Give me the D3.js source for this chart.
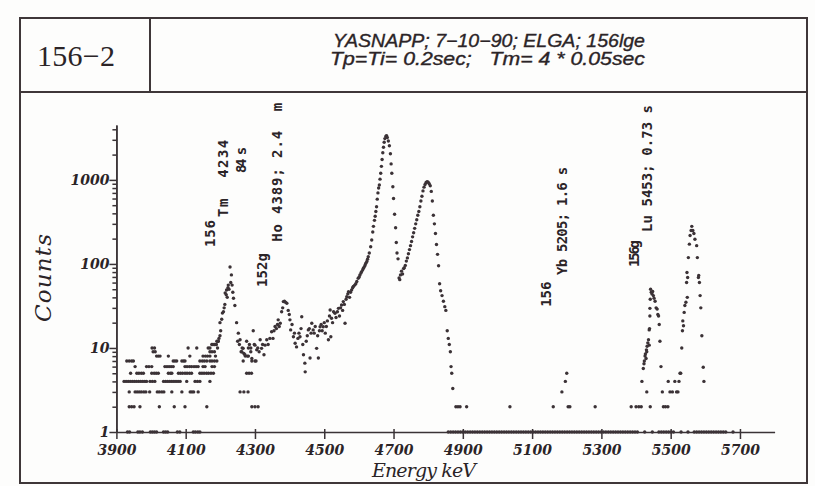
<!DOCTYPE html>
<meta charset="utf-8">
<style>
  body { margin: 0; background: #fdfdfc; }
  svg text { fill: #2b2427; }
  .tick text { font-family: "DejaVu Serif", serif; font-style: italic; font-weight: bold; font-size: 14px; }
  .axis path, .axis line { stroke: #3a3336; stroke-width: 1.5px; }
  .ann { font-family: "DejaVu Sans Mono", monospace; font-weight: bold; font-size: 14px; white-space: pre; }
</style>
<title>156-2 alpha spectrum</title>
<body>
<script src="https://d3js.org/d3.v7.min.js"></script>
<script>
// ---- data (energy keV, counts) ----
var xTicks = [3900, 4100, 4300, 4500, 4700, 4900, 5100, 5300, 5500, 5700];
var yMajor = [1, 10, 100, 1000];
var yMinor = [2,3,4,5,6,7,8,9, 20,30,40,50,60,70,80,90, 200,300,400,500,600,700,800,900, 2000,3000,4000];

// low-energy background: integer count rows, energies of the dots in each row
var rowCounts = [2, 3, 4, 5, 6, 7, 8, 9, 10, 11, 12];
var rowEnergies = [
  [3937,3944,3951,3968,4024,4067,4098,4161,4291,4300,4309],
  [3937,3954,3960,3966,3972,3979,3985,3996,4018,4024,4031,4037,4060,4089,4113,4118,4123,4136,4257,4268,4280],
  [3922,3928,3934,3940,3946,3952,3958,3964,3970,3976,3982,3987,3997,4004,4011,4036,4042,4048,4054,4060,4066,4072,4078,4084,4103,4127,4134,4141,4170],
  [3941,3959,3965,3972,3978,4002,4009,4015,4021,4050,4056,4060,4079,4085,4091,4098,4104,4111,4117,4141,4147,4153,4160,4166,4173,4180,4276,4283,4290],
  [3954,3987,3994,4002,4040,4046,4052,4058,4064,4098,4104,4111,4117,4124,4130,4136,4150,4156,4176,4183],
  [3930,3937,3944,3949,4064,4069,4074,4089,4094,4098,4141,4148,4154,4161,4170,4176,4183,4190,4266,4291,4300],
  [4016,4021,4026,4050,4112,4150,4157,4163,4170,4186,4272,4281],
  [4006,4012,4170,4176,4183,4262,4288],
  [4003,4010,4107,4132,4165,4170,4192],
  [4176,4182,4188],
  [4194]
];

// channels with a single count (they sit on the energy axis)
var oneCount = [3932,3938,3962,3968,3975,3998,4004,4010,4016,4036,4042,4048,4076,4083,4122,4128,4135,4141,
  4858,4865,4872,4879,4886,4893,4900,4907,4914,4921,4928,4935,4942,4949,4956,4963,4970,4977,4984,4991,4998,
  5005,5012,5019,5026,5033,5040,5047,5054,5061,5068,5075,5082,5089,5096,5103,5110,5117,5124,5131,5138,5145,
  5152,5159,5166,5173,5180,5187,5194,5201,5208,5215,5222,5229,5236,5243,5250,5257,5264,5271,5278,5285,5292,
  5299,5306,5313,5320,5327,5334,5341,5348,5355,5362,5369,5376,5383,5390,5397,5404,5425,5447,
  5466,5473,5480,5487,5494,5501,5508,5530,5550,
  5568,5575,5582,5589,5596,5603,5610,5617,5624,5631,5638,5645,5652,5659,5680];

var tmPeak = [[4176,11],[4182,11],[4188,11],[4190,12],[4194,12],[4196,13],[4199,14],[4201,16],[4199,20],[4204,22],
  [4206,26],[4209,27],[4211,30],[4213,33],[4214,45],[4217,43],[4218,49],[4220,40],[4222,52],[4223,56],[4225,50],
  [4228,92],[4230,60],[4232,74],[4234,56],[4236,46],[4238,39],[4242,32],[4247,20]];

var hoRegion = [[4250,12],[4252,15],[4255,11],[4257,12.5],[4260,9],[4263,10],[4266,9.9],[4268,8.6],[4271,8.3],
  [4276,12],[4278,8],[4281,10],[4284,11],[4288,10],[4291,7.5],[4295,16],[4298,11],[4300,10.8],[4303,7],[4305,9.5],
  [4308,10],[4312,9],[4315,12.5],[4319,9.9],[4322,11],[4326,8.3],[4329,10.8],[4334,12.5],[4338,11],[4343,13],
  [4348,15.6],[4352,13],[4355,16],[4358,18],[4362,17],[4365,19],[4367,21.6],[4370,18],[4373,19.7],[4377,27],
  [4380,30],[4382,35.6],[4385,36],[4388,35],[4392,34],[4396,28],[4399,25],[4401,21.6],[4403,16.4],[4407,19],
  [4411,13.6],[4414,15],[4416,11.4],[4420,10.3],[4424,13],[4427,15],[4430,13.6],[4433,17],[4435,23.5],[4438,11],
  [4440,8.3],[4444,6.6],[4445,5.2],[4448,12],[4451,14],[4454,16.4],[4457,17],[4459,7.6],[4462,15],[4464,19.7],
  [4468,16.4],[4471,15],[4474,18],[4478,9.9],[4481,14],[4483,7.6],[4486,16],[4488,17.9],[4491,19],[4494,16],
  [4497,17.9],[4500,20],[4503,15],[4506,18],[4509,21],[4512,12.5],[4515,24],[4517,28.3],[4519,13.6],[4521,22.6],
  [4524,20],[4527,27],[4531,25.9],[4534,23],[4538,27],[4541,29.6],[4544,24],[4547,30],[4550,32.5],[4553,28],
  [4555,35.6],[4558,33],[4560,19.7],[4563,38],[4565,40.7],[4568,44],[4570,46.8],[4573,40],[4576,46],[4579,49],
  [4582,52],[4584,53.8],[4588,56],[4591,58],[4594,61.8],[4598,67.5],[4601,70],[4603,74],[4606,78],[4608,81],
  [4611,85],[4613,88.8],[4616,93],[4618,97],[4620,102],[4623,107],[4625,114],[4627,122]];

var mainPeaks = [[4630,135],[4634,160],[4637,193],[4640,240],[4642,280],[4645,330],[4647,370],[4649,420],[4651,480],
  [4653,590],[4655,700],[4657,800],[4659,870],[4661,1020],[4663,1200],[4665,1450],[4667,1750],[4669,2100],
  [4671,2450],[4673,2800],[4675,3100],[4678,3300],[4680,3350],[4682,3200],[4685,2900],[4688,2550],[4691,2050],
  [4693,1550],[4695,1200],[4698,830],[4700,600],[4703,390],[4706,270],[4708,180],[4710,135],[4713,115],[4716,68],
  [4718,65],[4720,74],[4723,82],[4726,76],[4729,88],[4731,90],[4734,96],[4737,108],[4740,118],[4743,132],[4746,148],
  [4749,165],[4752,185],[4755,210],[4758,235],[4761,265],[4764,300],[4767,335],[4770,380],[4773,420],[4776,480],
  [4779,560],[4782,640],[4785,740],[4788,820],[4791,880],[4794,930],[4797,950],[4800,940],[4803,900],[4806,850],
  [4809,730],[4812,560],[4815,380],[4818,300],[4821,230],[4824,170],[4827,130],[4830,95],[4833,58],[4836,48],
  [4840,42],[4844,36],[4848,31],[4851,28],[4855,16],[4858,13],[4861,11],[4864,9],[4866,6],[4868,5],[4871,3.3],
  [4880,2],[4886,2],[4892,2],[4911,2]];

var ybPeak = [[5036,2],[5161,2],[5186,3],[5196,4],[5200,5],[5204,2],[5209,2],[5282,2]];

var luPeak = [[5386,2],[5400,2],[5408,2],[5415,2],[5417,4],[5421,5.7],[5423,6.5],[5424,7],[5426,8],[5427,8.5],
  [5429,7.5],[5430,9.5],[5431,9],[5432,10.5],[5434,11.5],[5436,12.5],[5438,10.8],[5438,16.4],[5439,17],[5440,24],
  [5440,29.6],[5441,38],[5442,50],[5444,46],[5446,44],[5448,47],[5450,42],[5452,39],[5455,36],[5458,30],[5461,29],
  [5463,25],[5465,24],[5467,19],[5469,12],[5472,6],[5476,3],[5431,3],[5441,2],[5479,2],[5485,2],[5492,2],
  [5493,4],[5498,3],[5505,3],[5512,4],[5517,3],[5521,3],[5524,4],[5527,5],[5529,5]];

var lastPeak = [[5532,10],[5534,16],[5535,21],[5537,18.4],[5539,26.5],[5541,32],[5544,35],[5546,60],[5547,79],
  [5548,40],[5549,69],[5551,119],[5554,172],[5556,218],[5559,250],[5561,280],[5564,250],[5567,230],[5570,197],
  [5575,165],[5577,119],[5580,69],[5581,73],[5583,60],[5585,42],[5587,30],[5590,14],[5594,5.9],[5596,4]];

// peak labels: text, anchor energy, anchor counts (bottom of the rotated text)
var labelText   = ["156", "Tm  4234", "84 s", "152g", "Ho 4389; 2.4  m", "156", "Yb 5205; 1.6 s", "156g", "Lu 5453; 0.73 s"];
var labelEnergy = [4170, 4207, 4259, 4320, 4363, 5140, 5186, 5393, 5433];
var labelCounts = [159, 363, 1211, 53, 183, 31, 74, 92, 240];
var labelLength = [27, 77, 26, 34, 139, 25, 108, 27, 127];

// ---- drawing ----
var W = 815, H = 486;
var svg = d3.select("body").append("svg").attr("width", W).attr("height", H);

var x = d3.scaleLinear().domain([3900, 5800]).range([116.4, 774.6]);
var y = d3.scaleLog().domain([1, 4500]).range([432, 125]);

// frame and header
var ink = "#3f3739";
svg.append("rect").attr("x", 20).attr("y", 18).attr("width", 787).attr("height", 465)
  .attr("fill", "none").attr("stroke", ink).attr("stroke-width", 2);
svg.append("line").attr("x1", 20).attr("x2", 807).attr("y1", 92).attr("y2", 92)
  .attr("stroke", ink).attr("stroke-width", 2);
svg.append("line").attr("x1", 150).attr("x2", 150).attr("y1", 18).attr("y2", 92)
  .attr("stroke", ink).attr("stroke-width", 2);

svg.append("text").attr("x", 37).attr("y", 66)
  .style("font-family", "Liberation Serif, serif").style("font-size", "30px")
  .attr("textLength", 78).text("156\u22122");

var titleFont = function(t) {
  t.style("font-family", "Liberation Sans, sans-serif").style("font-style", "italic").style("font-size", "18px")
   .attr("stroke", "#2b2427").attr("stroke-width", 0.35).attr("lengthAdjust", "spacingAndGlyphs");
};
svg.append("text").attr("x", 333).attr("y", 47).call(titleFont)
  .attr("textLength", 312).text("YASNAPP; 7\u221210\u221290; ELGA; 156lge");
svg.append("text").attr("x", 330).attr("y", 65).style("white-space", "pre").call(titleFont)
  .attr("textLength", 315).text("Tp=Ti= 0.2sec;   Tm= 4 * 0.05sec");

// axes
var gy = svg.append("g").attr("class", "axis").attr("transform", "translate(116.4,0)");
gy.call(d3.axisLeft(y).tickValues(yMinor).tickSize(4).tickSizeOuter(0).tickFormat(""));
var gy2 = svg.append("g").attr("class", "axis").attr("transform", "translate(116.4,0)");
gy2.call(d3.axisLeft(y).tickValues(yMajor).tickSize(7).tickSizeOuter(0).tickFormat(d3.format("d")));
gy2.selectAll(".tick text").attr("x", -7).attr("dy", "0.3em");

var gx = svg.append("g").attr("class", "axis").attr("transform", "translate(0,432)");
gx.call(d3.axisBottom(x).tickValues(xTicks).tickSize(7).tickSizeOuter(0).tickFormat(d3.format("d")));
gx.selectAll(".tick line").attr("y1", -3);
gx.selectAll(".tick text").attr("y", 23).attr("dy", 0);

svg.append("text").attr("transform", "translate(51,278) rotate(-90)").attr("text-anchor", "middle")
  .style("font-family", "DejaVu Serif, serif").style("font-style", "italic").style("font-size", "23px")
  .attr("textLength", 88).text("Counts");
svg.append("text").attr("x", 424).attr("y", 477).attr("text-anchor", "middle")
  .style("font-family", "DejaVu Serif, serif").style("font-style", "italic").style("font-size", "19px")
  .attr("textLength", 104).text("Energy keV");

// points
var pts = [];
rowCounts.forEach(function(c, i) { rowEnergies[i].forEach(function(e) { pts.push([e, c]); }); });
oneCount.forEach(function(e) { pts.push([e, 1]); });
pts = pts.concat(tmPeak, hoRegion, mainPeaks, ybPeak, luPeak, lastPeak);

svg.append("g").selectAll("circle").data(pts).enter().append("circle")
  .attr("cx", function(d) { return x(d[0]); })
  .attr("cy", function(d) { return y(d[1]); })
  .attr("r", 1.7)
  .attr("fill", "#3b3236");

// peak labels
svg.append("g").selectAll("text").data(labelText).enter().append("text")
  .attr("class", "ann")
  .attr("transform", function(d, i) { return "translate(" + x(labelEnergy[i]) + "," + y(labelCounts[i]) + ") rotate(-90)"; })
  .attr("dy", "0.35em")
  .attr("textLength", function(d, i) { return labelLength[i]; })
  .text(function(d) { return d; });
</script>
</body>
